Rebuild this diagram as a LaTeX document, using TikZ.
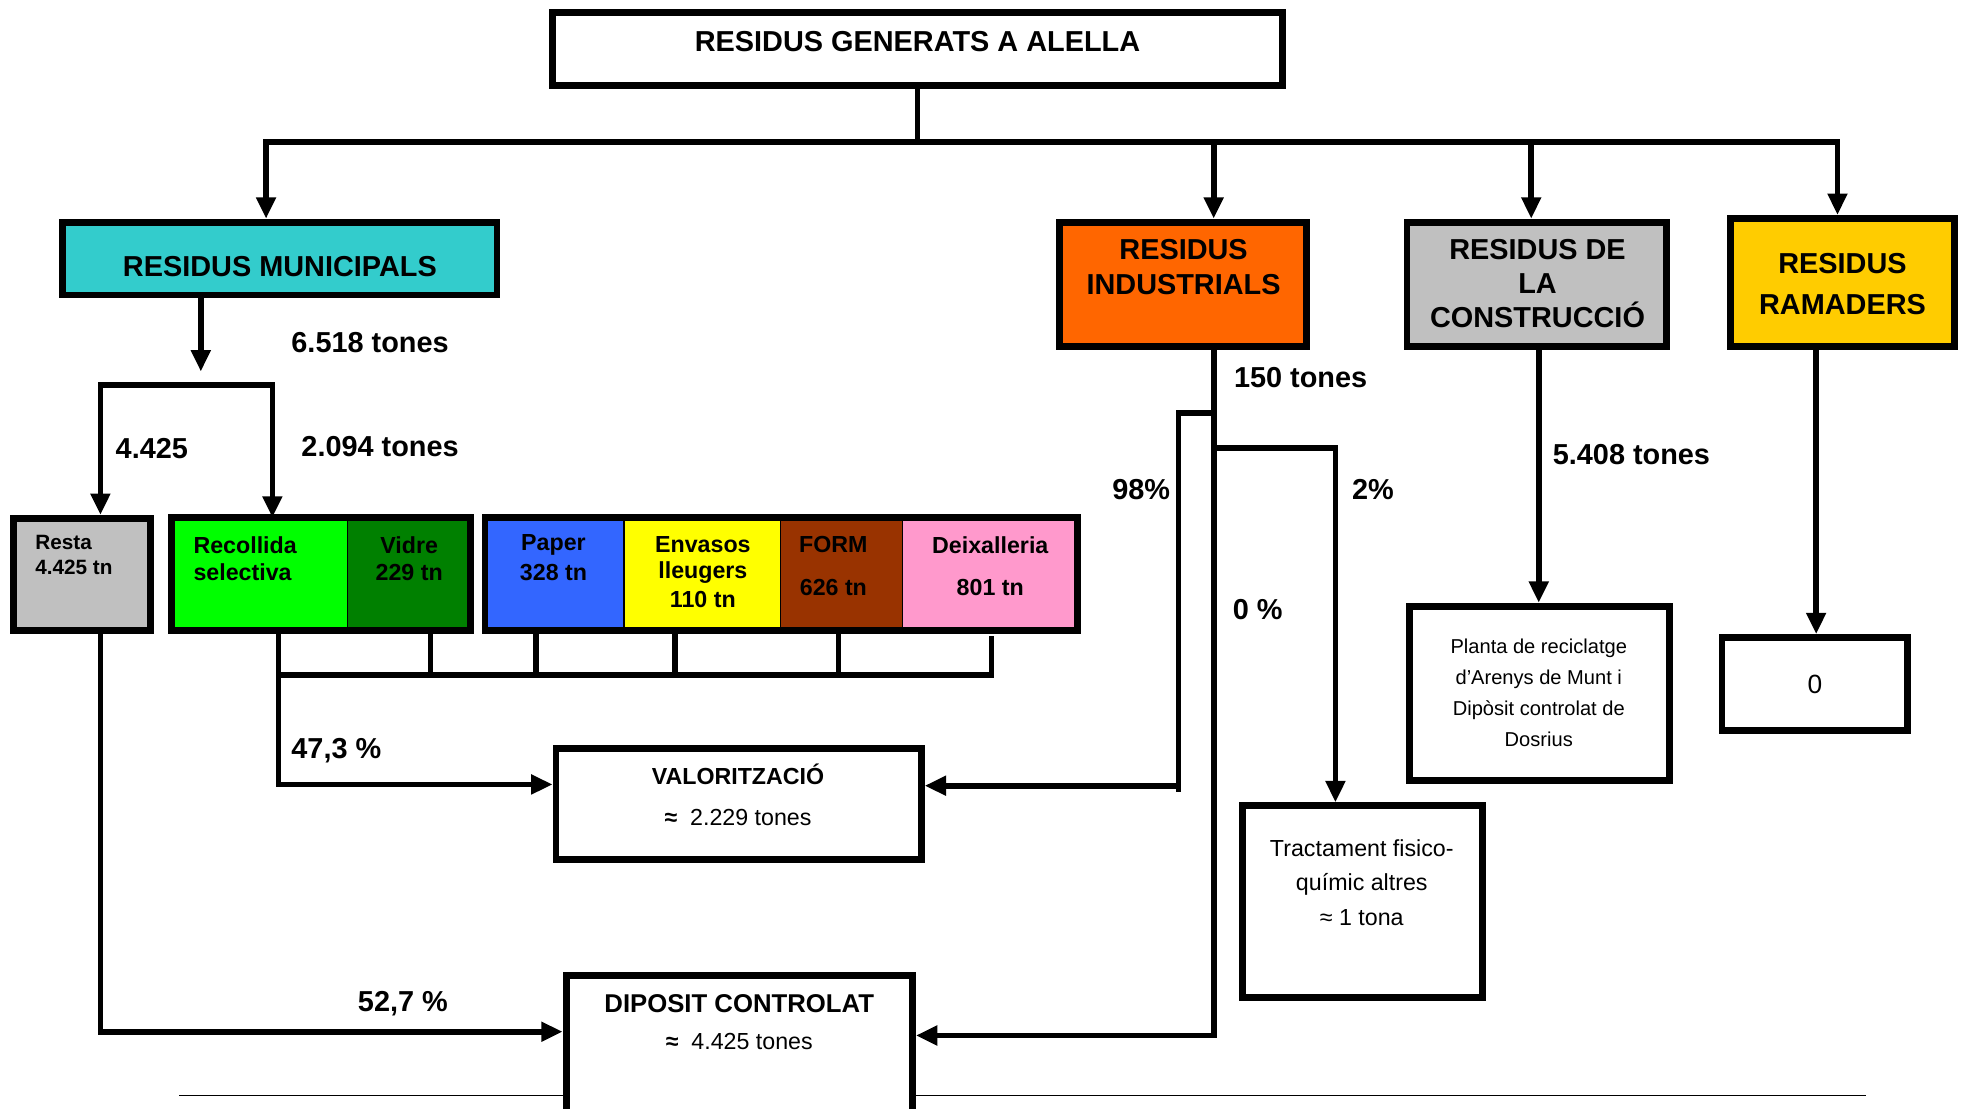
\documentclass[tikz,border=0pt]{standalone}
\usepackage{fontspec}
\setmainfont{Liberation Sans}
\usetikzlibrary{arrows.meta}
\definecolor{cmun}{HTML}{33CCCC}
\definecolor{cind}{HTML}{FF6600}
\definecolor{cgrey}{HTML}{C0C0C0}
\definecolor{cram}{HTML}{FFCC00}
\definecolor{cgreen}{HTML}{00FF00}
\definecolor{cdgreen}{HTML}{008000}
\definecolor{cblue}{HTML}{3366FF}
\definecolor{cyell}{HTML}{FFFF00}
\definecolor{cbrown}{HTML}{993300}
\definecolor{cpink}{HTML}{FF99CC}
\begin{document}
\begin{tikzpicture}[x=1pt,y=-1pt,
  box/.style={draw,line width=5.5pt,rectangle,inner sep=0pt,fill=white},
  cell/.style={draw,line width=1.2pt,rectangle,inner sep=0pt},
  sz/.style 2 args={minimum width=#1pt,minimum height=#2pt},
  con/.style={line width=4.5pt,line cap=rect},
  arr/.style={line width=4.5pt,-{Triangle[width=15pt,length=17pt]}},
  big/.style={font=\bfseries\fontsize{23}{28}\selectfont,align=center,inner sep=0pt},
  lab/.style={font=\bfseries\fontsize{23}{28}\selectfont,anchor=west,inner sep=0pt},
  mid/.style={font=\bfseries\fontsize{18.5}{22}\selectfont,inner sep=0pt},
  sml/.style={font=\bfseries\fontsize{16.5}{20}\selectfont,inner sep=0pt,anchor=west},
  nrm/.style={font=\fontsize{18.5}{22}\selectfont,inner sep=0pt},
  nsm/.style={font=\fontsize{16}{19}\selectfont,inner sep=0pt},
]
\fill[white] (0,0) rectangle (1568,883);
\useasboundingbox (0,0) rectangle (1568,883);

% thin base line
\coordinate (h1) at (143,873);
\coordinate (h2) at (1487,873);
\draw[line width=1.2pt] (h1) -- (h2);

% top level
\node[box,sz={582}{58}] (title) at (731,39) {};
\node[big] (tt) at (731,33) {RESIDUS GENERATS A ALELLA};

\node[box,sz={346}{58},fill=cmun] (mun) at (223,206) {};
\node[big] (tmun) at (223,212) {RESIDUS MUNICIPALS};

\node[box,sz={197}{99},fill=cind] (ind) at (942.5,226.5) {};
\node[big] (tind) at (943,213) {RESIDUS\\INDUSTRIALS};

\node[box,sz={207}{99},fill=cgrey] (con) at (1224.5,226.5) {};
\node[big,font=\bfseries\fontsize{23}{27}\selectfont] (tcon) at (1225,226) {RESIDUS DE\\LA\\CONSTRUCCIÓ};

\node[box,sz={178}{102},fill=cram] (ram) at (1468,225) {};
\node[big,font=\bfseries\fontsize{23}{33}\selectfont] (tram) at (1468,226.5) {RESIDUS\\RAMADERS};

% row of boxes
\node[box,sz={109}{89},fill=cgrey] (resta) at (65.5,457.5) {};
\node[cell,sz={140}{89},fill=cgreen] (recol) at (207,457.5) {};
\node[cell,sz={97}{89},fill=cdgreen] (vidre) at (325.5,457.5) {};
\node[cell,sz={110}{89},fill=cblue] (paper) at (442,457.5) {};
\node[cell,sz={125}{89},fill=cyell] (env) at (559.5,457.5) {};
\node[cell,sz={97}{89},fill=cbrown] (form) at (670.5,457.5) {};
\node[cell,sz={139}{89},fill=cpink] (deix) at (788.5,457.5) {};
\draw[line width=5.5pt] (recol.north west) rectangle (vidre.south east);
\draw[line width=5.5pt] (paper.north west) rectangle (deix.south east);

\node[sml] (tr1) at (28,432) {Resta};
\node[sml] (tr2) at (28,452) {4.425 tn};
\node[mid,anchor=west] (tc1) at (154,434) {Recollida};
\node[mid,anchor=west] (tc2) at (154,456) {selectiva};
\node[mid] (tv1) at (326,434) {Vidre};
\node[mid] (tv2) at (326,456) {229 tn};
\node[mid] (tp1) at (441,434) {Paper};
\node[mid] (tp2) at (441,456) {328 tn};
\node[mid] (te1) at (560,434) {Envasos};
\node[mid] (te2) at (560,456) {lleugers};
\node[mid] (te3) at (560,478) {110 tn};
\node[mid] (tf1) at (664,434) {FORM};
\node[mid] (tf2) at (664,468) {626 tn};
\node[mid] (td1) at (789,434) {Deixalleria};
\node[mid] (td2) at (789,468) {801 tn};

% destination boxes
\node[box,sz={291}{89}] (val) at (588.5,640.5) {};
\node[mid] (tval1) at (588,617) {VALORITZACIÓ};
\node[nrm] (tval2) at (588,651) {\textbf{≈}\ \ 2.229 tones};

\node[box,sz={276}{116}] (dip) at (589,835) {};
\node[big,font=\bfseries\fontsize{20.5}{24}\selectfont] (tdip1) at (589,800) {DIPOSIT CONTROLAT};
\node[nrm] (tdip2) at (589,830) {\textbf{≈}\ \ 4.425 tones};

\node[box,sz={191}{153}] (trac) at (1085.5,718.5) {};
\node[nrm,align=center,font=\fontsize{18.5}{27.5}\selectfont] (ttrac) at (1085,703) {Tractament fisico-\\químic altres\\≈ 1 tona};

\node[box,sz={207}{139}] (plant) at (1226.5,552.5) {};
\node[nsm,align=center,font=\fontsize{16}{24.5}\selectfont] (tplant) at (1226,552) {Planta de reciclatge\\d’Arenys de Munt i\\Dipòsit controlat de\\Dosrius};

\node[box,sz={148}{74}] (zero) at (1446,545) {};
\node[nrm,font=\fontsize{21}{24}\selectfont] (tzero) at (1446,545) {0};

% labels
\node[lab] (l1) at (232,273) {6.518 tones};
\node[lab] (l2) at (92,357) {4.425};
\node[lab] (l3) at (240,356) {2.094 tones};
\node[lab] (l4) at (232,598) {47,3 \%};
\node[lab] (l5) at (285,800) {52,7 \%};
\node[lab] (l6) at (983,301) {150 tones};
\node[lab] (l7) at (886,390) {98\%};
\node[lab] (l8) at (1077,390) {2\%};
\node[lab] (l9) at (982,486) {0 \%};
\node[lab] (l10) at (1237,362) {5.408 tones};

% top bus
\coordinate (bus) at (731,113);
\coordinate (bL) at (212,113);
\coordinate (bI) at (967,113);
\coordinate (bC) at (1220,113);
\coordinate (bR) at (1464,113);
\draw[con] (title.south) -- (bus);
\draw[con] (bL) -- (bR);
\draw[arr] (bL) -- (bL |- mun.north);
\draw[arr] (bI) -- (bI |- ind.north);
\draw[arr] (bC) -- (bC |- con.north);
\draw[arr] (bR) -- (bR |- ram.north);

% municipal split
\coordinate (m1) at (160,296);
\coordinate (sL) at (80,307);
\coordinate (sR) at (217,307);
\draw[arr] (m1 |- mun.south) -- (m1);
\draw[con] (sL) -- (sR);
\draw[arr] (sL) -- (sL |- resta.north);
\draw[arr] (sR) -- (sR |- recol.north);

% collection below row
\coordinate (c1) at (222,538);
\coordinate (c2) at (343,538);
\coordinate (c3) at (427,538);
\coordinate (c4) at (538,538);
\coordinate (c5) at (668,538);
\coordinate (c6) at (790,538);
\coordinate (c6t) at (790,509);
\coordinate (v1) at (222,625);
\draw[con] (c2 |- vidre.south) -- (c2);
\draw[con] (c3 |- paper.south) -- (c3);
\draw[con] (c4 |- env.south) -- (c4);
\draw[con] (c5 |- form.south) -- (c5);
\draw[con] (c6t) -- (c6);
\draw[con] (c1) -- (c6);
\draw[arr] (c1 |- recol.south) -- (v1) -- (v1 -| val.west);

% resta to deposit
\coordinate (r1) at (80,822);
\draw[arr] (r1 |- resta.south) -- (r1) -- (r1 -| dip.west);

% industrial
\coordinate (i1) at (967,825);
\coordinate (i2) at (939,329);
\coordinate (i3) at (939,626);
\coordinate (i4) at (939,631);
\coordinate (i5) at (1064,357);
\draw[arr] (i1 |- ind.south) -- (i1) -- (i1 -| dip.east);
\draw[con,line cap=butt] (i2 -| i1) -- (i2) -- (i4);
\draw[arr] (i3) -- (i3 -| val.east);
\draw[arr] (i5 -| i1) -- (i5) -- (i5 |- trac.north);

% construction & livestock
\coordinate (k1) at (1226,300);
\coordinate (q1) at (1447,300);
\draw[arr] (k1 |- con.south) -- (k1 |- plant.north);
\draw[arr] (q1 |- ram.south) -- (q1 |- zero.north);
\end{tikzpicture}
\end{document}
